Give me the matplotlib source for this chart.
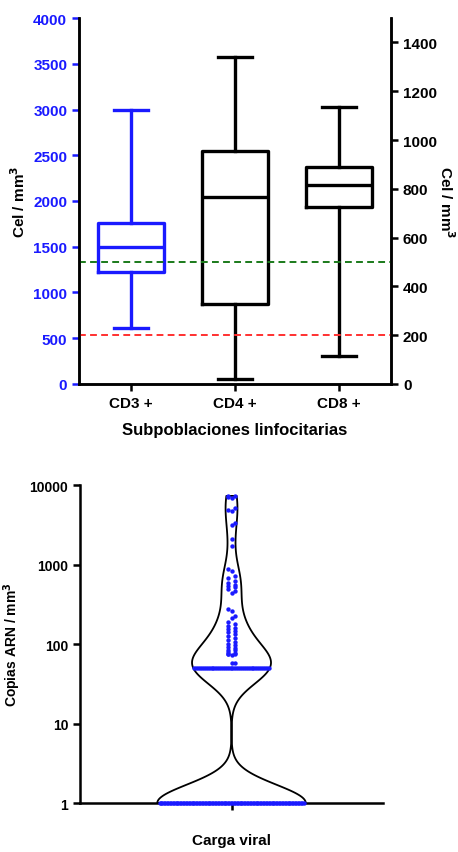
import numpy as np
import matplotlib
matplotlib.use('Agg')
from matplotlib import pyplot as plt
from matplotlib import cbook, mlab

plt.rcParams['font.family'] = ['Liberation Sans', 'DejaVu Sans']
plt.rcParams['font.weight'] = 'bold'

# panel A: lymphocyte subsets (box stats: low whisker, Q1, median, Q3, high whisker)
grupos = ['CD3 +', 'CD4 +', 'CD8 +']
cd3 = [610, 1220, 1500, 1760, 3000]       # left axis (cel/mm3)
cd4 = [20, 327, 766, 955, 1340]           # right axis (cel/mm3)
cd8 = [115, 724, 815, 888, 1134]          # right axis (cel/mm3)
limite_verde = 500                        # right axis
limite_rojo = 200                         # right axis

# panel B: viral load (copies RNA / mm3)
n_uno = 100
n_cincuenta = 40
carga_bajos = [275, 260, 225, 210, 187, 180, 170, 160, 155, 148, 140, 133,
               126, 120, 112, 105, 100, 96, 92, 88, 85, 83, 80, 78, 76, 75,
               74, 73, 58, 57]
carga_medios = [880, 820, 720, 680, 620, 580, 550, 530, 520, 490, 460, 440]
carga_altos = [7300, 7200, 7000, 6900, 5200, 4900, 4700, 3300, 3100, 2100, 1700]
carga = np.array([1] * n_uno + [50] * n_cincuenta + carga_bajos + carga_medios + carga_altos,
                 dtype=float)

azul = '#1a1aff'

fig = plt.figure(figsize=(4.58, 8.53), dpi=100)

# ---------- panel A ----------
ax = fig.add_axes([0.1725, 0.5487, 0.6815, 0.429])
ax2 = ax.twinx()
ax.set_ylim(0, 4000)
ax2.set_ylim(0, 1500)
ax.set_xlim(0.5, 3.5)


def stats(v, label):
    return dict(whislo=v[0], q1=v[1], med=v[2], q3=v[3], whishi=v[4], label=label, fliers=[])


def caja(axis, v, pos, color):
    lw = 2.4
    axis.bxp([stats(v, '')], positions=[pos], widths=0.64, showfliers=False,
             boxprops=dict(color=color, linewidth=lw),
             medianprops=dict(color=color, linewidth=lw),
             whiskerprops=dict(color=color, linewidth=lw),
             capprops=dict(color=color, linewidth=lw), capwidths=0.32,
             manage_ticks=False)


caja(ax, cd3, 1, azul)
caja(ax2, cd4, 2, 'black')
caja(ax2, cd8, 3, 'black')
ax2.axhline(limite_verde, color='#1a7a1a', ls=(0, (3.5, 2.2)), lw=1.4)
ax2.axhline(limite_rojo, color='#ff3030', ls=(0, (3.5, 2.2)), lw=1.4)

ax.set_xticks([1, 2, 3])
ax.set_xticklabels(grupos, fontsize=11, fontweight='bold')
ax.set_yticks(np.arange(0, 4001, 500))
ax.tick_params(axis='y', colors=azul, labelsize=11, width=1.8, length=5)
ax.tick_params(axis='x', width=1.8, length=5, labelsize=11)
ax.spines['left'].set_color('black')
ax2.set_yticks(np.arange(0, 1401, 200))
ax2.tick_params(axis='y', labelsize=11, width=1.8, length=5)
for a in (ax, ax2):
    a.spines['top'].set_visible(False)
    for s in ('left', 'right', 'bottom'):
        a.spines[s].set_linewidth(1.8)
    for t in a.get_yticklabels():
        t.set_fontweight('bold')
ax.set_ylabel('Cel / mm$^\\mathbf{3}$', fontsize=11, fontweight='bold')
ax.yaxis.set_label_coords(-0.163, 0.5)
ax2.set_ylabel('Cel / mm$^\\mathbf{3}$', fontsize=11, fontweight='bold', rotation=270, va='center')
ax2.yaxis.set_label_coords(1.176, 0.5)
ax.set_xlabel('Subpoblaciones linfocitarias', fontsize=12, fontweight='bold', labelpad=9)

# ---------- panel B ----------
bx = fig.add_axes([0.1747, 0.0574, 0.6616, 0.3728])
logc = np.log10(carga)
bw = 0.23 / np.std(logc, ddof=1)


def kde_method(X, coords):
    return mlab.GaussianKDE(X, bw).evaluate(coords)


vst = cbook.violin_stats(logc, kde_method, points=300)
ancho = 0.49
partes = bx.violin(vst, positions=[1], widths=ancho, showextrema=False)
for b in partes['bodies']:
    b.set_facecolor('none')
    b.set_edgecolor('black')
    b.set_linewidth(1.3)
    b.set_alpha(1)

coords = vst[0]['coords']
vals = vst[0]['vals']
half = 0.5 * ancho * vals / vals.max()

# swarm-like placement of the dots
xs = np.ones(len(logc))
yvals, inv = np.unique(logc, return_inverse=True)
for k, yv in enumerate(yvals):
    idx = np.where(inv == k)[0]
    if len(idx) > 3:
        hw = np.interp(yv, coords, half) * 0.97
        xs[idx] = 1 + np.linspace(-hw, hw, len(idx))
prev = None
sign = 1
for i in np.argsort(logc):
    if np.sum(logc == logc[i]) > 3:
        continue
    if prev is not None and abs(logc[i] - prev) < 0.045:
        xs[i] = 1 + sign * 0.012
        sign = -sign
    else:
        xs[i] = 1
    prev = logc[i]
bx.scatter(xs, logc, s=10, color=azul, zorder=3, clip_on=False, linewidths=0)

bx.set_xlim(0.5, 1.5)
bx.set_ylim(0, 4)
bx.set_yticks([0, 1, 2, 3, 4])
bx.set_yticklabels(['1', '10', '100', '1000', '10000'], fontsize=10, fontweight='bold')
bx.set_xticks([1])
bx.set_xticklabels([''])
bx.tick_params(axis='both', width=1.8, length=5)
bx.spines['top'].set_visible(False)
bx.spines['right'].set_visible(False)
bx.spines['left'].set_linewidth(1.8)
bx.spines['bottom'].set_linewidth(1.8)
bx.set_ylabel('Copias ARN / mm$^\\mathbf{3}$', fontsize=10, fontweight='bold')
bx.yaxis.set_label_coords(-0.188, 0.5)
bx.set_xlabel('Carga viral', fontsize=11, fontweight='bold')
bx.xaxis.set_label_coords(0.5, -0.095)

fig.savefig('out.png', dpi=100)
